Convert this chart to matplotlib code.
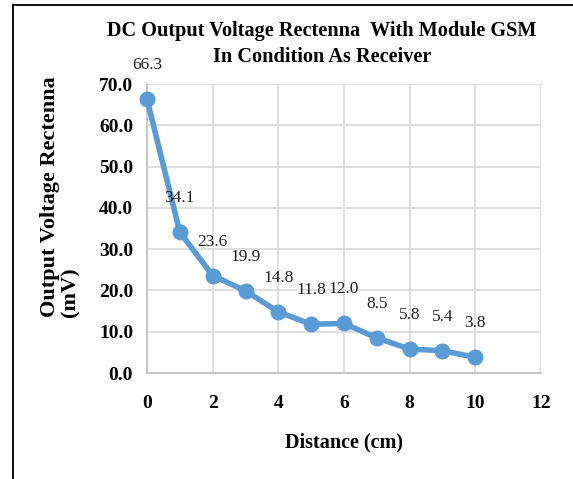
import matplotlib
matplotlib.use("Agg")
import matplotlib.pyplot as plt
from matplotlib.lines import Line2D

distance = [0, 1, 2, 3, 4, 5, 6, 7, 8, 9, 10]
voltage = [66.3, 34.1, 23.6, 19.9, 14.8, 11.8, 12.0, 8.5, 5.8, 5.4, 3.8]
x_ticks = [0, 2, 4, 6, 8, 10, 12]
y_ticks = [0, 10, 20, 30, 40, 50, 60, 70]
title_lines = ["DC Output Voltage Rectenna  With Module GSM", "In Condition As Receiver"]

plt.rcParams['font.family'] = ['Liberation Serif', 'DejaVu Serif']

fig = plt.figure(figsize=(5.73, 4.79), dpi=100)
ax = fig.add_axes([147/573, 1-373/479, (541-147)/573, (373-84)/479])

color = '#5B9BD5'
ax.plot(distance, voltage, color=color, lw=4, marker='o', ms=10.5,
        solid_capstyle='round', zorder=3, clip_on=False)
for x, y in zip(distance, voltage):
    ax.annotate(f"{y:.1f}", (x, y), xytext=(0, 24.5), textcoords='offset points',
                ha='center', va='center', fontsize=12.5, color='#222222')

ax.set_xlim(0, 12)
ax.set_ylim(0, 70)
ax.set_xticks(x_ticks)
ax.set_yticks(y_ticks)
ax.set_yticklabels([f"{v:.1f}" for v in y_ticks])
ax.grid(True, color='#d9d9d9', lw=1.2)
ax.set_axisbelow(True)
for s in ['top', 'right']:
    ax.spines[s].set_visible(False)
for s in ['left', 'bottom']:
    ax.spines[s].set_color('#bfbfbf')
    ax.spines[s].set_linewidth(1.2)
ax.tick_params(length=0)
ax.tick_params(axis='x', pad=16, labelsize=14)
ax.tick_params(axis='y', pad=10, labelsize=14)
for lab in ax.get_xticklabels() + ax.get_yticklabels():
    lab.set_fontweight('bold')

fig.text(344/573, 1-442/479, "Distance (cm)", ha='center', va='center',
         fontsize=14.5, fontweight='bold')
fig.text(60/573, 1-197/479, "Output Voltage Rectenna\n(mV)", rotation=90,
         ha='center', va='center', multialignment='left', fontsize=16,
         fontweight='bold', linespacing=1.05)
fig.text(322/573, 1-31/479, title_lines[0], ha='center', va='center',
         fontsize=14.6, fontweight='bold')
fig.text(322/573, 1-57/479, title_lines[1], ha='center', va='center',
         fontsize=14.6, fontweight='bold')

# figure border lines (left and top)
fig.add_artist(Line2D([13/573, 13/573], [0, 1-5/479], transform=fig.transFigure, color='black', lw=1.3))
fig.add_artist(Line2D([13/573, 1], [1-5/479, 1-5/479], transform=fig.transFigure, color='black', lw=1.3))

fig.savefig("out.png", dpi=100)
